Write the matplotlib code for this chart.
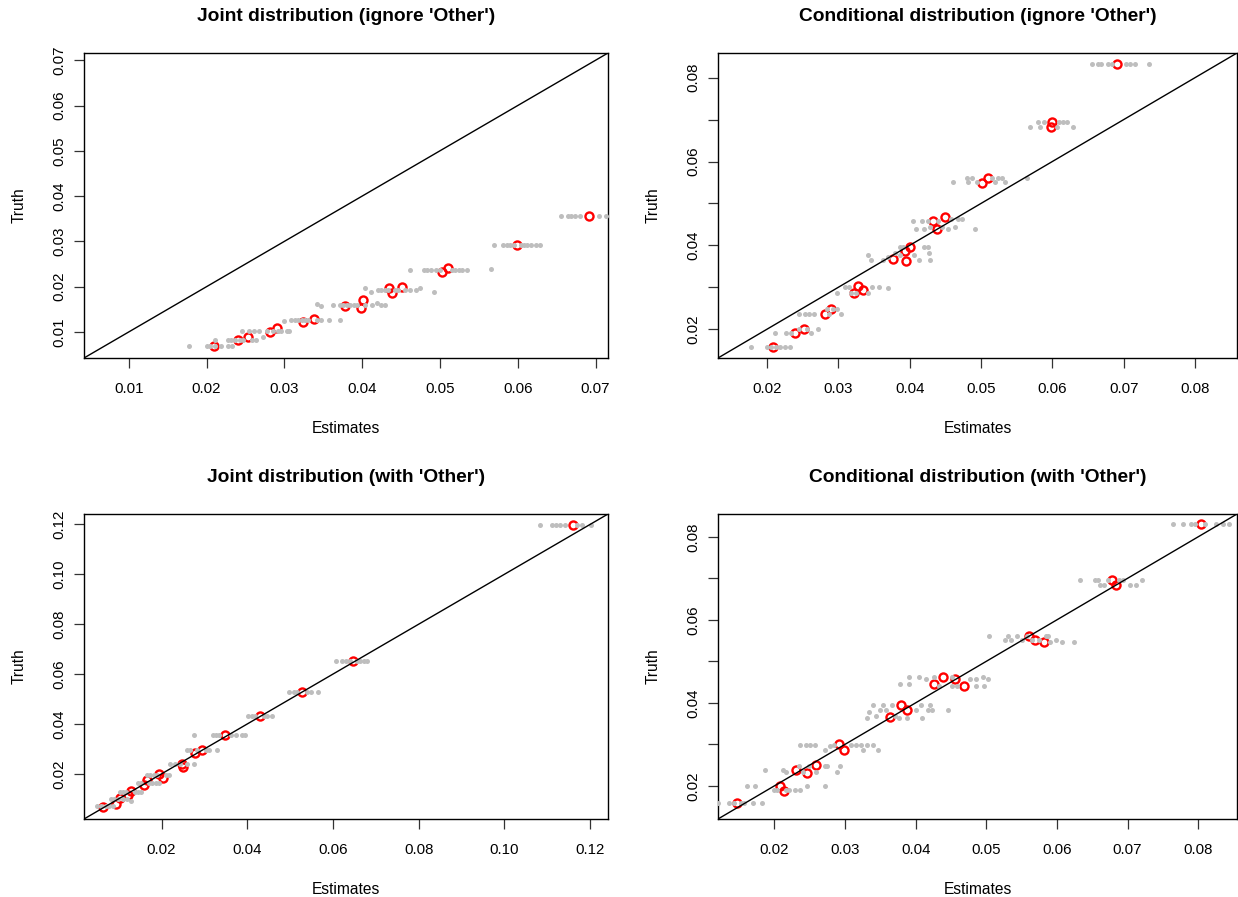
import matplotlib
matplotlib.use("Agg")
import matplotlib.pyplot as plt
import numpy as np

plt.rcParams['font.family'] = ['Liberation Sans', 'DejaVu Sans']

# ---------------- Panel 1: Joint distribution (ignore 'Other') ----------------
p1_red_est = [0.0209, 0.0240, 0.0253, 0.0281, 0.0290, 0.0324, 0.0338, 0.0378, 0.0398, 0.0401,
              0.0434, 0.0438, 0.0451, 0.0503, 0.0510, 0.0599, 0.0691]
p1_red_truth = [0.0069, 0.0082, 0.0088, 0.0100, 0.0109, 0.0122, 0.0128, 0.0158, 0.0154, 0.0170,
                0.0198, 0.0187, 0.0200, 0.0233, 0.0242, 0.0291, 0.0356]
p1_gray = [
    (0.0069, [0.0178, 0.0201, 0.0205, 0.0211, 0.0218, 0.0227, 0.0233]),
    (0.0083, [0.0211, 0.0227, 0.0232, 0.0236, 0.0243, 0.0247, 0.0258, 0.0263]),
    (0.0088, [0.0272]),
    (0.0102, [0.0245, 0.0254, 0.0261, 0.0267, 0.0278, 0.0285, 0.0292, 0.0296, 0.0303, 0.0306]),
    (0.0124, [0.0300]),
    (0.0127, [0.0309, 0.0314, 0.0318, 0.0323, 0.0327, 0.0331, 0.0342, 0.0347, 0.0358, 0.0371]),
    (0.0162, [0.0342]),
    (0.0157, [0.0347]),
    (0.0159, [0.0363, 0.0371, 0.0376, 0.0380, 0.0385, 0.0389, 0.0393, 0.0404, 0.0413, 0.0424, 0.0429]),
    (0.0165, [0.0419]),
    (0.0196, [0.0404, 0.0474]),
    (0.0189, [0.0411, 0.0492]),
    (0.0193, [0.0420, 0.0424, 0.0429, 0.0433, 0.0442, 0.0446, 0.0455, 0.0462, 0.0469]),
    (0.0236, [0.0462, 0.0480, 0.0484, 0.0489, 0.0495, 0.0500, 0.0515, 0.0519, 0.0524, 0.0528, 0.0535]),
    (0.0240, [0.0565]),
    (0.0293, [0.0569, 0.0581, 0.0586, 0.0590, 0.0595, 0.0604, 0.0608, 0.0612, 0.0617, 0.0623, 0.0629]),
    (0.0356, [0.0656, 0.0664, 0.0669, 0.0673, 0.0680, 0.0704, 0.0713]),
]

# ---------------- Panel 2: Conditional distribution (ignore 'Other') ----------------
p2_red_est = [0.0208, 0.0239, 0.0252, 0.0281, 0.0290, 0.0322, 0.0328, 0.0335, 0.0377, 0.0395,
              0.0394, 0.0400, 0.0432, 0.0438, 0.0450, 0.0501, 0.0510, 0.0600, 0.0598, 0.0690]
p2_red_truth = [0.0158, 0.0190, 0.0200, 0.0235, 0.0249, 0.0287, 0.0304, 0.0293, 0.0367, 0.0362,
                0.0387, 0.0396, 0.0458, 0.0438, 0.0467, 0.0548, 0.0561, 0.0695, 0.0683, 0.0833]
p2_gray = [
    (0.0158, [0.0177, 0.0200, 0.0205, 0.0212, 0.0218, 0.0225, 0.0232]),
    (0.0190, [0.0211, 0.0227, 0.0233, 0.0262]),
    (0.0200, [0.0244, 0.0256, 0.0271]),
    (0.0235, [0.0244, 0.0253, 0.0258, 0.0266, 0.0286, 0.0304]),
    (0.0249, [0.0284, 0.0293, 0.0298]),
    (0.0287, [0.0298, 0.0317, 0.0324, 0.0341]),
    (0.0300, [0.0309, 0.0315, 0.0347, 0.0357]),
    (0.0297, [0.0370]),
    (0.0377, [0.0342, 0.0386, 0.0406]),
    (0.0365, [0.0346, 0.0363, 0.0413, 0.0429]),
    (0.0373, [0.0370]),
    (0.0381, [0.0379, 0.0427]),
    (0.0395, [0.0386, 0.0391, 0.0420, 0.0425]),
    (0.0458, [0.0404, 0.0417, 0.0425, 0.0439]),
    (0.0440, [0.0409, 0.0420, 0.0454, 0.0492]),
    (0.0444, [0.0429, 0.0445, 0.0463]),
    (0.0462, [0.0458, 0.0468, 0.0473]),
    (0.0550, [0.0461, 0.0482, 0.0494, 0.0519, 0.0534]),
    (0.0560, [0.0480, 0.0487, 0.0516, 0.0524, 0.0529, 0.0564]),
    (0.0683, [0.0568, 0.0583, 0.0606, 0.0629]),
    (0.0695, [0.0580, 0.0588, 0.0610, 0.0615, 0.0621]),
    (0.0833, [0.0655, 0.0664, 0.0668, 0.0678, 0.0684, 0.0704, 0.0709, 0.0716, 0.0736]),
]

# ---------------- Panel 3: Joint distribution (with 'Other') ----------------
p3_red_est = [0.0064, 0.0094, 0.0104, 0.0122, 0.0129, 0.0158, 0.0165, 0.0194, 0.0204, 0.0247,
              0.0251, 0.0277, 0.0295, 0.0349, 0.0429, 0.0528, 0.0648, 0.1160]
p3_red_truth = [0.0066, 0.0078, 0.0104, 0.0114, 0.0131, 0.0155, 0.0175, 0.0201, 0.0184, 0.0241,
                0.0228, 0.0282, 0.0295, 0.0355, 0.0431, 0.0529, 0.0652, 0.1197]
p3_gray = [
    (0.0070, [0.0050, 0.0058, 0.0070, 0.0078, 0.0086]),
    (0.0101, [0.0082, 0.0090, 0.0098, 0.0110, 0.0120]),
    (0.0090, [0.0129]),
    (0.0128, [0.0102, 0.0110, 0.0118, 0.0138, 0.0146, 0.0153]),
    (0.0163, [0.0145, 0.0153, 0.0170, 0.0178, 0.0186]),
    (0.0195, [0.0166, 0.0174, 0.0182, 0.0190, 0.0210, 0.0218]),
    (0.0164, [0.0194]),
    (0.0239, [0.0220, 0.0231, 0.0243, 0.0259, 0.0276]),
    (0.0295, [0.0259, 0.0267, 0.0283, 0.0303, 0.0311, 0.0329]),
    (0.0355, [0.0276, 0.0319, 0.0327, 0.0335, 0.0363, 0.0373, 0.0387, 0.0394]),
    (0.0431, [0.0402, 0.0410, 0.0419, 0.0439, 0.0447, 0.0458]),
    (0.0529, [0.0498, 0.0508, 0.0517, 0.0540, 0.0549, 0.0564]),
    (0.0652, [0.0606, 0.0622, 0.0630, 0.0640, 0.0656, 0.0664, 0.0672, 0.0680]),
    (0.1197, [0.1084, 0.1112, 0.1120, 0.1130, 0.1142, 0.1170, 0.1182, 0.1202]),
]

# ---------------- Panel 4: Conditional distribution (with 'Other') ----------------
p4_red_est = [0.0147, 0.0208, 0.0213, 0.0230, 0.0246, 0.0259, 0.0291, 0.0299, 0.0379, 0.0363,
              0.0388, 0.0439, 0.0426, 0.0455, 0.0468, 0.0560, 0.0569, 0.0581, 0.0678, 0.0683, 0.0804]
p4_red_truth = [0.0158, 0.0200, 0.0188, 0.0238, 0.0230, 0.0249, 0.0300, 0.0287, 0.0395, 0.0366,
                0.0382, 0.0462, 0.0445, 0.0457, 0.0441, 0.0562, 0.0552, 0.0547, 0.0695, 0.0683, 0.0832]
p4_gray = [
    (0.0158, [0.0120, 0.0136, 0.0143, 0.0152, 0.0157, 0.0169, 0.0182]),
    (0.0200, [0.0161, 0.0173, 0.0246, 0.0272]),
    (0.0190, [0.0199, 0.0203, 0.0216, 0.0221, 0.0229, 0.0236]),
    (0.0237, [0.0186, 0.0212]),
    (0.0233, [0.0216, 0.0240, 0.0259, 0.0288]),
    (0.0247, [0.0235, 0.0249, 0.0271, 0.0275, 0.0293]),
    (0.0299, [0.0236, 0.0245, 0.0250, 0.0258, 0.0284, 0.0308, 0.0315, 0.0323, 0.0331, 0.0339]),
    (0.0287, [0.0271, 0.0325, 0.0347]),
    (0.0295, [0.0279]),
    (0.0364, [0.0331, 0.0376, 0.0388, 0.0409]),
    (0.0368, [0.0344, 0.0371]),
    (0.0378, [0.0334]),
    (0.0395, [0.0339, 0.0354, 0.0366, 0.0408, 0.0420]),
    (0.0382, [0.0349, 0.0358, 0.0400, 0.0417, 0.0423, 0.0446]),
    (0.0445, [0.0378, 0.0391]),
    (0.0462, [0.0391, 0.0405, 0.0426, 0.0452, 0.0495]),
    (0.0457, [0.0415, 0.0477, 0.0485, 0.0502]),
    (0.0441, [0.0433, 0.0451, 0.0459, 0.0486, 0.0497]),
    (0.0560, [0.0504, 0.0530, 0.0543, 0.0557, 0.0584, 0.0588]),
    (0.0552, [0.0527, 0.0535, 0.0550, 0.0564, 0.0574, 0.0598]),
    (0.0547, [0.0590, 0.0607, 0.0624]),
    (0.0695, [0.0633, 0.0654, 0.0658, 0.0673, 0.0688, 0.0694, 0.0721]),
    (0.0684, [0.0661, 0.0667, 0.0704, 0.0712]),
    (0.0832, [0.0764, 0.0779, 0.0790, 0.0796, 0.0809, 0.0825, 0.0835, 0.0843]),
]

titles = ["Joint distribution (ignore 'Other')", "Conditional distribution (ignore 'Other')",
          "Joint distribution (with 'Other')", "Conditional distribution (with 'Other')"]
limits = [(0.00425, 0.0716), (0.0131, 0.0859), (0.0019, 0.1242), (0.0120, 0.0855)]
xticks = [[0.01, 0.02, 0.03, 0.04, 0.05, 0.06, 0.07],
          [0.02, 0.03, 0.04, 0.05, 0.06, 0.07, 0.08],
          [0.02, 0.04, 0.06, 0.08, 0.10, 0.12],
          [0.02, 0.03, 0.04, 0.05, 0.06, 0.07, 0.08]]
yticks = [[0.01, 0.02, 0.03, 0.04, 0.05, 0.06, 0.07],
          [0.02, 0.03, 0.04, 0.05, 0.06, 0.07, 0.08],
          [0.02, 0.04, 0.06, 0.08, 0.10, 0.12],
          [0.02, 0.03, 0.04, 0.05, 0.06, 0.07, 0.08]]
ylabel_every = [1, 2, 1, 2]

panels = [(p1_red_est, p1_red_truth, p1_gray), (p2_red_est, p2_red_truth, p2_gray),
          (p3_red_est, p3_red_truth, p3_gray), (p4_red_est, p4_red_truth, p4_gray)]

W, H = 1238, 897
fig = plt.figure(figsize=(W / 100, H / 100), dpi=100)
boxes = [(84, 53, 608, 358), (718, 53, 1237, 358), (84, 514, 608, 819), (718, 514, 1237, 819)]

FS = 10.8
for i, (est, truth, gray) in enumerate(panels):
    x0, y0, x1, y1 = boxes[i]
    ax = fig.add_axes([x0 / W, 1 - y1 / H, (x1 - x0) / W, (y1 - y0) / H])
    lo, hi = limits[i]
    ax.set_xlim(lo, hi)
    ax.set_ylim(lo, hi)
    # red circles (true estimates) first
    ax.plot(est, truth, linestyle='none', marker='o', markersize=5.8, markerfacecolor='none',
            markeredgecolor='#FF0000', markeredgewidth=1.7, zorder=2)
    gx = []
    gy = []
    for yv, xs in gray:
        gx.extend(xs)
        gy.extend([yv] * len(xs))
    ax.plot(gx, gy, linestyle='none', marker='o', markersize=3.6, color='#BEBEBE',
            markeredgewidth=0, zorder=3)
    ax.axline((lo, lo), slope=1, color='black', linewidth=1.0, zorder=4)
    ax.set_xticks(xticks[i])
    ax.set_xticklabels(["%.2f" % v for v in xticks[i]])
    ax.set_yticks(yticks[i])
    ax.set_yticklabels([("%.2f" % v) if (round(v * 100) % ylabel_every[i] == 0) else ""
                        for v in yticks[i]], rotation=90, va='center')
    ax.tick_params(axis='both', direction='out', length=7.5, width=0.9, labelsize=FS, color='#333333')
    ax.tick_params(axis='x', pad=9.5)
    ax.tick_params(axis='y', pad=5)
    for s in ax.spines.values():
        s.set_linewidth(1.0)
        s.set_color('black')
    ax.set_xlabel("Estimates", fontsize=11.2, labelpad=18.5)
    ax.set_ylabel("Truth", fontsize=11.2, labelpad=18.5)
    ax.set_title(titles[i], fontsize=13.8, fontweight='bold', pad=22.7)

fig.savefig("out.png", dpi=100)
